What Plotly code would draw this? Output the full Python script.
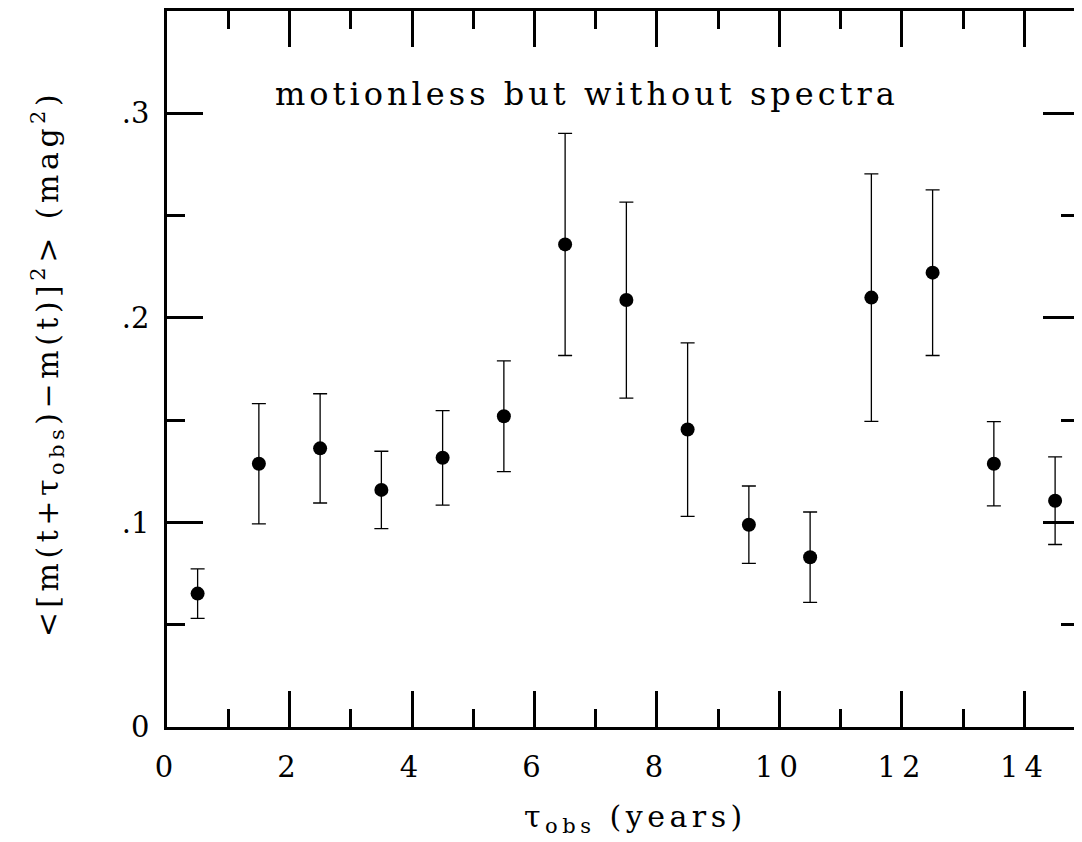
import plotly.graph_objects as go

# Data
tau_obs = [0.5, 1.5, 2.5, 3.5, 4.5, 5.5, 6.5, 7.5, 8.5, 9.5, 10.5, 11.5, 12.5, 13.5, 14.5]
msd = [0.0652, 0.1287, 0.1362, 0.1159, 0.1316, 0.1519, 0.2359, 0.2087, 0.1454,
       0.0989, 0.0830, 0.2099, 0.2221, 0.1287, 0.1106]
msd_err = [0.0121, 0.0294, 0.0267, 0.0189, 0.0231, 0.0271, 0.0543, 0.0479, 0.0424,
           0.0189, 0.0221, 0.0605, 0.0405, 0.0206, 0.0214]

x_tickvals = [0, 2, 4, 6, 8, 10, 12, 14]
x_ticktext = ["0", "2", "4", "6", "8", "10", "12", "14"]
y_tickvals = [0, 0.1, 0.2, 0.3]
y_ticktext = ["0", ".1", ".2", ".3"]

title_text = "motionless but without spectra"
x_title = "τ<sub>obs</sub> (years)"
y_title = "&lt;[m(t+τ<sub>obs</sub>)−m(t)]<sup>2</sup>&gt; (mag<sup>2</sup>)"

FONT = "DejaVu Serif"

fig = go.Figure()
fig.add_trace(go.Scatter(
    x=tau_obs, y=msd, mode="markers",
    marker=dict(color="black", size=14, symbol="circle"),
    error_y=dict(type="data", array=msd_err, visible=True,
                 color="black", thickness=1.3, width=7),
    showlegend=False,
))

axis_common = dict(
    showgrid=False, zeroline=False, showline=True, linecolor="black",
    linewidth=2.5, mirror="ticks", ticks="inside", tickcolor="black",
    tickwidth=2.5, ticklen=36,
    tickfont=dict(family=FONT, size=29, color="black"),
)

fig.update_xaxes(
    range=[0, 14.89], tickvals=x_tickvals, ticktext=x_ticktext,
    ticklabelstandoff=12,
    minor=dict(dtick=1, tick0=0, ticks="inside", ticklen=18, tickwidth=2.5, tickcolor="black"),
    **axis_common,
)
fig.update_yaxes(
    range=[0, 0.35], tickvals=y_tickvals, ticktext=y_ticktext,
    ticklabelstandoff=9,
    minor=dict(dtick=0.05, tick0=0, ticks="inside", ticklen=18, tickwidth=2.5, tickcolor="black"),
    **axis_common,
)

fig.add_annotation(text=title_text, xref="paper", yref="paper", x=0.4607, y=0.8847,
                   xanchor="center", yanchor="middle", showarrow=False,
                   font=dict(family=FONT, size=32, color="black"))
fig.add_annotation(text=x_title, xref="paper", yref="paper", x=0.5137, y=-0.128,
                   xanchor="center", yanchor="middle", showarrow=False,
                   font=dict(family=FONT, size=30, color="black"))
fig.add_annotation(text=y_title, xref="paper", yref="paper", x=-0.131, y=0.508,
                   xanchor="center", yanchor="middle", showarrow=False, textangle=-90,
                   font=dict(family=FONT, size=30, color="black"))

# The page body has an 8px margin; the figure is sized so the plot area
# lands where it sits in the reference.
fig.update_layout(
    width=1074, height=834,
    margin=dict(l=159, r=0, t=0, b=115),
    paper_bgcolor="white", plot_bgcolor="white",
)

post_js = """
(function(){
  function spread(){
    var gd = document.getElementById('{plot_id}');
    if(!gd) return;
    var ann = gd.querySelectorAll('.annotation-text');
    ann.forEach(function(t, i){ t.style.letterSpacing = (i === 0 ? '4px' : '4.5px'); });
    gd.querySelectorAll('.xtick text').forEach(function(t){ t.style.letterSpacing = '6px'; });
  }
  spread();
  setTimeout(spread, 50);
  setTimeout(spread, 300);
  var gd = document.getElementById('{plot_id}');
  if(gd && gd.on){ gd.on('plotly_afterplot', spread); }
})();
"""

fig.write_html("out.html", post_script=post_js)
